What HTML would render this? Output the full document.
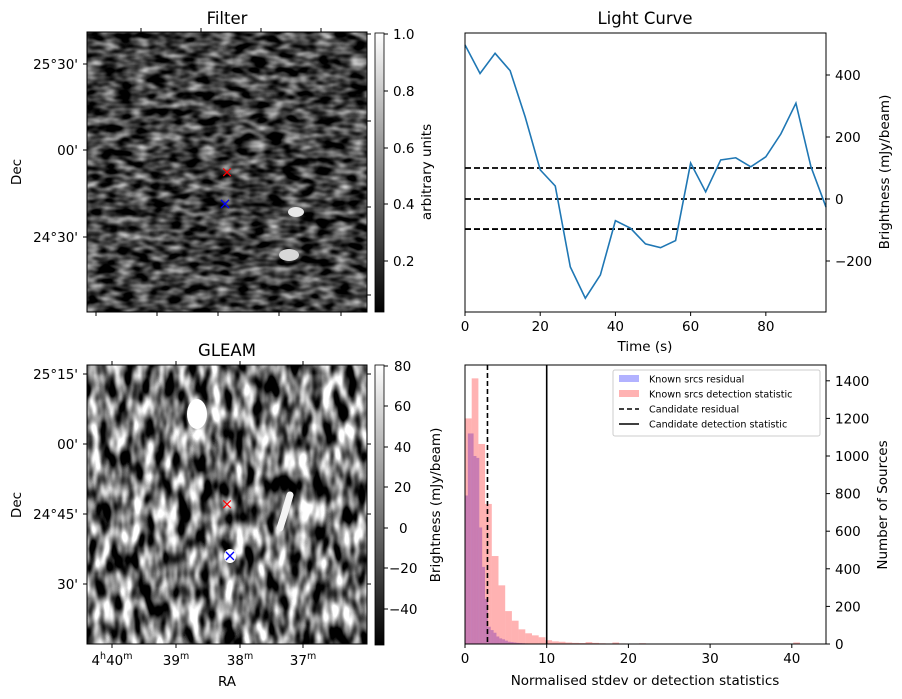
<!DOCTYPE html>
<html><head><meta charset="utf-8"><style>
body{margin:0;background:#fff;}
svg{display:block;font-family:"DejaVu Sans","Liberation Sans",sans-serif;}
text{fill:#000;}
</style></head><body>
<svg id="fig" width="902" height="699" viewBox="0 0 902 699" xmlns="http://www.w3.org/2000/svg">
<defs>
<filter id="texF" x="0" y="0" width="100%" height="100%" color-interpolation-filters="sRGB">
<feTurbulence type="fractalNoise" baseFrequency="0.06 0.12" numOctaves="2" seed="3"/>
<feColorMatrix type="matrix" values="1.4 0 0 0 -0.45  1.4 0 0 0 -0.45  1.4 0 0 0 -0.45  0 0 0 0 1"/>
</filter>
<filter id="texG" x="0" y="0" width="100%" height="100%" color-interpolation-filters="sRGB">
<feTurbulence type="fractalNoise" baseFrequency="0.09 0.04" numOctaves="2" seed="7"/>
<feColorMatrix type="matrix" values="2.6 0 0 0 -0.85  2.6 0 0 0 -0.85  2.6 0 0 0 -0.85  0 0 0 0 1"/>
</filter>
<linearGradient id="gray" x1="0" y1="1" x2="0" y2="0"><stop offset="0" stop-color="#000"/><stop offset="1" stop-color="#fff"/></linearGradient>
</defs>

<!-- Filter panel -->
<g>
<text x="227" y="24" font-size="16.5" text-anchor="middle">Filter</text>
<rect x="87" y="32" width="280" height="280" filter="url(#texF)"/>
<ellipse cx="296" cy="212" rx="8" ry="5" fill="#e8e8e8"/>
<ellipse cx="289" cy="255" rx="10" ry="6" fill="#d8d8d8"/>
<rect x="87" y="32" width="280" height="280" fill="none" stroke="#000"/>
<text x="227" y="177" font-size="15" text-anchor="middle" style="fill:red">×</text>
<text x="225" y="209" font-size="16" text-anchor="middle" style="fill:blue">×</text>
<g font-size="13.5" text-anchor="end">
<text x="78" y="69">25°30'</text><text x="78" y="155">00'</text><text x="78" y="242">24°30'</text>
</g>
<g stroke="#000"><line x1="83" x2="87" y1="64" y2="64"/><line x1="83" x2="87" y1="150" y2="150"/><line x1="83" x2="87" y1="237" y2="237"/>
<line x1="141" x2="141" y1="28" y2="32"/><line x1="201" x2="201" y1="28" y2="32"/><line x1="261" x2="261" y1="28" y2="32"/><line x1="321" x2="321" y1="28" y2="32"/>
<line x1="96" x2="96" y1="312" y2="316"/><line x1="157" x2="157" y1="312" y2="316"/><line x1="218" x2="218" y1="312" y2="316"/><line x1="279" x2="279" y1="312" y2="316"/><line x1="341" x2="341" y1="312" y2="316"/>
<line x1="367" x2="371" y1="34" y2="34"/><line x1="367" x2="371" y1="121" y2="121"/><line x1="367" x2="371" y1="207" y2="207"/><line x1="367" x2="371" y1="295" y2="295"/></g>
<text x="21" y="172" font-size="13.5" transform="rotate(-90 21 172)" text-anchor="middle">Dec</text>
<rect x="375" y="33" width="9" height="279" fill="url(#gray)" stroke="#000" stroke-width="0.8"/>
<g font-size="13.5">
<text x="393" y="39">1.0</text><text x="393" y="96">0.8</text><text x="393" y="153">0.6</text><text x="393" y="209">0.4</text><text x="393" y="266">0.2</text></g>
<g stroke="#000"><line x1="384" x2="388" y1="34" y2="34"/><line x1="384" x2="388" y1="91" y2="91"/><line x1="384" x2="388" y1="148" y2="148"/><line x1="384" x2="388" y1="204" y2="204"/><line x1="384" x2="388" y1="261" y2="261"/></g>
<text x="431" y="172" font-size="13.5" transform="rotate(-90 431 172)" text-anchor="middle">arbitrary units</text>
</g>

<!-- GLEAM panel -->
<g>
<text x="227" y="356" font-size="16.5" text-anchor="middle">GLEAM</text>
<rect x="87" y="365" width="280" height="279" filter="url(#texG)"/>
<ellipse cx="197" cy="414" rx="10" ry="15" fill="#fff"/>
<path d="M290 495 L285 512 L280 528" stroke="#f4f4f4" stroke-width="7" fill="none" stroke-linecap="round"/>
<ellipse cx="230" cy="556" rx="6" ry="7" fill="#fff"/>
<rect x="87" y="365" width="280" height="279" fill="none" stroke="#000"/>
<text x="227" y="509" font-size="15" text-anchor="middle" style="fill:red">×</text>
<text x="230" y="561" font-size="16" text-anchor="middle" style="fill:blue">×</text>
<g font-size="13.5" text-anchor="end">
<text x="78" y="379">25°15'</text><text x="78" y="449">00'</text><text x="78" y="519">24°45'</text><text x="78" y="589">30'</text></g>
<g font-size="13.5" text-anchor="middle">
<text x="112" y="665">4<tspan font-size="9.5" dy="-6">h</tspan><tspan dy="6">40</tspan><tspan font-size="9.5" dy="-6">m</tspan></text>
<text x="176" y="665">39<tspan font-size="9.5" dy="-6">m</tspan></text>
<text x="240" y="665">38<tspan font-size="9.5" dy="-6">m</tspan></text>
<text x="303" y="665">37<tspan font-size="9.5" dy="-6">m</tspan></text></g>
<g stroke="#000"><line x1="83" x2="87" y1="374" y2="374"/><line x1="83" x2="87" y1="444" y2="444"/><line x1="83" x2="87" y1="514" y2="514"/><line x1="83" x2="87" y1="584" y2="584"/>
<line x1="367" x2="371" y1="374" y2="374"/><line x1="367" x2="371" y1="444" y2="444"/><line x1="367" x2="371" y1="514" y2="514"/><line x1="367" x2="371" y1="584" y2="584"/>
<line x1="112" x2="112" y1="644" y2="648"/><line x1="176" x2="176" y1="644" y2="648"/><line x1="240" x2="240" y1="644" y2="648"/><line x1="303" x2="303" y1="644" y2="648"/>
<line x1="112" x2="112" y1="361" y2="365"/><line x1="176" x2="176" y1="361" y2="365"/><line x1="240" x2="240" y1="361" y2="365"/><line x1="303" x2="303" y1="361" y2="365"/></g>
<text x="21" y="505" font-size="13.5" transform="rotate(-90 21 505)" text-anchor="middle">Dec</text>
<text x="227" y="686" font-size="13.5" text-anchor="middle">RA</text>
<rect x="375" y="365" width="9" height="280" fill="url(#gray)" stroke="#000" stroke-width="0.8"/>
<g font-size="13.5">
<text x="394" y="371">80</text><text x="394" y="411">60</text><text x="394" y="452">40</text><text x="394" y="492">20</text><text x="399" y="533">0</text><text x="389" y="573">−20</text><text x="389" y="614">−40</text></g>
<g stroke="#000"><line x1="384" x2="388" y1="366" y2="366"/><line x1="384" x2="388" y1="406" y2="406"/><line x1="384" x2="388" y1="447" y2="447"/><line x1="384" x2="388" y1="487" y2="487"/><line x1="384" x2="388" y1="528" y2="528"/><line x1="384" x2="388" y1="568" y2="568"/><line x1="384" x2="388" y1="609" y2="609"/></g>
<text x="440" y="505" font-size="13.5" transform="rotate(-90 440 505)" text-anchor="middle">Brightness (mJy/beam)</text>
</g>

<g id="lc"></g>
<g id="hist"></g>
</svg>
<script>
const NS="http://www.w3.org/2000/svg";
// Light curve data
const lcTimes=[0,4,8,12,16,20,24,28,32,36,40,44,48,52,56,60,64,68,72,76,80,84,88,92,96];
const lcValues=[497,405,470,414,265,94,42,-219,-320,-245,-70,-94,-145,-157,-134,116,23,126,133,104,136,210,309,104,-26];
const lcThresholds=[100,0,-97];
const lcXTicks=[0,20,40,60,80];
const lcYTicks=[-200,0,200,400];
// Histogram data
const blueBinWidth=0.35;
const blueCounts=[790,1120,1120,1000,990,620,410,240,92,74,60,40,30,25,18,12,10,8,6,5,4,3,2,2,1,1,1,1,1,1];
const redBinWidth=0.82;
const redCounts=[1200,1413,1064,745,468,312,175,124,78,57,46,36,20,14,12,8,6,5,10,6,4,3,8,3,2,2,4,2,2,1,1,2,1,1,2,1,0,1,1,0,0,0,0,0,0,0,0,0,0,8];
const candResidual=2.75;
const candDetection=10.0;
const histXTicks=[0,10,20,30,40];
const histYTicks=[0,200,400,600,800,1000,1200,1400];

function mk(tag,attrs,parent){const e=document.createElementNS(NS,tag);for(const k in attrs)e.setAttribute(k,attrs[k]);parent.appendChild(e);return e;}

// Light curve
const lc=document.getElementById('lc');
const L={x0:465,x1:826,y0:33,y1:312};
const lx=t=>L.x0+(t-0)/(96-0)*(L.x1-L.x0);
const ly=v=>199-v*0.31;
lcThresholds.forEach(v=>{
  const l=mk('line',{x1:L.x0,x2:L.x1,y1:ly(v),y2:ly(v),stroke:'#000','stroke-width':1.8,'stroke-dasharray':'6,3'},lc);
  
  
});
const pl=mk('polyline',{points:lcTimes.map((t,i)=>lx(t)+','+ly(lcValues[i])).join(' '),fill:'none',stroke:'#1f77b4','stroke-width':1.6},lc);


mk('rect',{x:L.x0,y:L.y0,width:L.x1-L.x0,height:L.y1-L.y0,fill:'none',stroke:'#000'},lc);
lcXTicks.forEach(t=>{
  mk('line',{x1:lx(t),x2:lx(t),y1:L.y1,y2:L.y1+4,stroke:'#000'},lc);
  const tx=mk('text',{x:lx(t),y:L.y1+19,'font-size':13.5,'text-anchor':'middle'},lc);tx.textContent=t;
  
  
});
lcYTicks.forEach(v=>{
  mk('line',{x1:L.x1,x2:L.x1+4,y1:ly(v),y2:ly(v),stroke:'#000'},lc);
  const tx=mk('text',{x:L.x1+9,y:ly(v)+5,'font-size':13.5},lc);tx.textContent=v<0?'−'+(-v):v;
  
  
});
let t1=mk('text',{x:645,y:24,'font-size':16.5,'text-anchor':'middle'},lc);t1.textContent='Light Curve';


let t2=mk('text',{x:645,y:351,'font-size':13.5,'text-anchor':'middle'},lc);t2.textContent='Time (s)';


let t3=mk('text',{x:889,y:172,'font-size':13.5,'text-anchor':'middle',transform:'rotate(-90 889 172)'},lc);t3.textContent='Brightness (mJy/beam)';



// Histogram
const h=document.getElementById('hist');
const H={x0:465,x1:826,y0:365,y1:644};
const hx=v=>H.x0+v*8.17;
const hy=c=>H.y1-c*0.188;
blueCounts.forEach((c,i)=>{
  if(c<=0)return;
  const r=mk('rect',{x:hx(i*blueBinWidth),y:hy(c),width:blueBinWidth*8.17,height:c*0.188,fill:'#0000ff','fill-opacity':0.3},h);
  
  
});
redCounts.forEach((c,i)=>{
  if(c<=0)return;
  const r=mk('rect',{x:hx(i*redBinWidth),y:hy(c),width:redBinWidth*8.17,height:c*0.188,fill:'#ff0000','fill-opacity':0.3},h);
  
  
});
let cr=mk('line',{x1:hx(candResidual),x2:hx(candResidual),y1:H.y0,y2:H.y1,stroke:'#000','stroke-width':1.6,'stroke-dasharray':'5,3'},h);


let cd=mk('line',{x1:hx(candDetection),x2:hx(candDetection),y1:H.y0,y2:H.y1,stroke:'#000','stroke-width':1.6},h);


mk('rect',{x:H.x0,y:H.y0,width:H.x1-H.x0,height:H.y1-H.y0,fill:'none',stroke:'#000'},h);
histXTicks.forEach(v=>{
  mk('line',{x1:hx(v),x2:hx(v),y1:H.y1,y2:H.y1+4,stroke:'#000'},h);
  const tx=mk('text',{x:hx(v),y:H.y1+19,'font-size':13.5,'text-anchor':'middle'},h);tx.textContent=v;
  
  
});
histYTicks.forEach(v=>{
  mk('line',{x1:H.x1,x2:H.x1+4,y1:hy(v),y2:hy(v),stroke:'#000'},h);
  const tx=mk('text',{x:H.x1+9,y:hy(v)+5,'font-size':13.5},h);tx.textContent=v;
  
  
});
let t4=mk('text',{x:645,y:685,'font-size':13.5,'text-anchor':'middle'},h);t4.textContent='Normalised stdev or detection statistics';


let t5=mk('text',{x:887,y:505,'font-size':13.5,'text-anchor':'middle',transform:'rotate(-90 887 505)'},h);t5.textContent='Number of Sources';


// legend
const lg=mk('g',{},h);


mk('rect',{x:613,y:370,width:207,height:66,fill:'#fff','fill-opacity':0.85,stroke:'#ccc',rx:2},lg);
const items=[['Known srcs residual','blue'],['Known srcs detection statistic','red'],['Candidate residual','dash'],['Candidate detection statistic','solid']];
items.forEach((it,i)=>{
  const y=379+i*15;
  if(it[1]==='blue')mk('rect',{x:619,y:y-4,width:20,height:7,fill:'#0000ff','fill-opacity':0.3},lg);
  else if(it[1]==='red')mk('rect',{x:619,y:y-4,width:20,height:7,fill:'#ff0000','fill-opacity':0.3},lg);
  else mk('line',{x1:619,x2:639,y1:y,y2:y,stroke:'#000','stroke-width':1.6,'stroke-dasharray':it[1]==='dash'?'5,3':'none'},lg);
  const tx=mk('text',{x:649,y:y+3.5,'font-size':9.6},lg);tx.textContent=it[0];
  
  
});
</script>
</body></html>
